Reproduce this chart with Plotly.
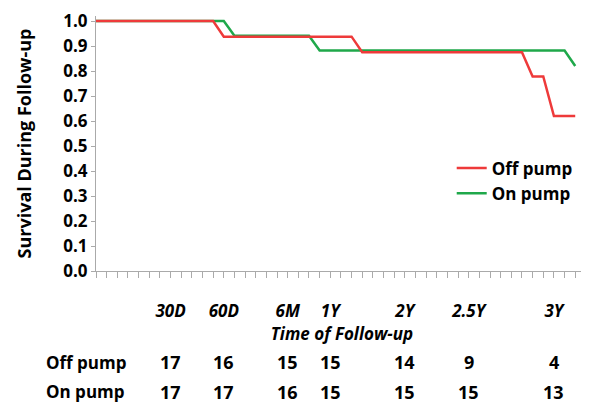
import plotly.graph_objects as go

# x positions are in chart grid units (one minor tick per unit)
off_x = [0, 11, 12, 24, 25, 40, 41, 42, 43, 45]
off_y = [1.0, 1.0, 0.9375, 0.9375, 0.875, 0.875, 0.778, 0.778, 0.62, 0.62]
on_x = [0, 12, 13, 20, 21, 44, 45]
on_y = [1.0, 1.0, 0.941, 0.941, 0.882, 0.882, 0.82]

tick_pos = [7, 12, 18, 22, 29, 35, 43]
tick_text = ["30D", "60D", "6M", "1Y", "2Y", "2.5Y", "3Y"]
event_ticks = [6, 10, 11, 13, 15, 20, 24, 25, 30, 36, 40, 42, 44, 45]

risk_off = [17, 16, 15, 15, 14, 9, 4]
risk_on = [17, 17, 16, 15, 15, 15, 13]

RED = "#EE3A3A"
GREEN = "#1FA84A"
FONT = "Open Sans"

fig = go.Figure()
fig.add_trace(go.Scatter(x=on_x, y=on_y, mode="lines", name="On pump",
                         line=dict(color=GREEN, width=2.5), cliponaxis=False))
fig.add_trace(go.Scatter(x=off_x, y=off_y, mode="lines", name="Off pump",
                         line=dict(color=RED, width=2.5), cliponaxis=False))
# dark event ticks and square markers along the time axis
fig.add_trace(go.Scatter(x=event_ticks, y=[0] * len(event_ticks), mode="markers",
                         yaxis="y2", showlegend=False, cliponaxis=False, hoverinfo="skip",
                         marker=dict(symbol="line-ns", size=7, line=dict(color="#555555", width=2))))
fig.add_trace(go.Scatter(x=tick_pos, y=[0] * len(tick_pos), mode="markers",
                         yaxis="y2", showlegend=False, cliponaxis=False, hoverinfo="skip",
                         marker=dict(symbol="square", size=6, color="black")))

bold = dict(family=FONT, color="black", weight="bold")

ROW1_Y = -0.358
ROW2_Y = -0.474

ann = []
for xv, n in zip(tick_pos, risk_off):
    ann.append(dict(x=xv, y=ROW1_Y, xref="x", yref="paper", text=str(n), showarrow=False,
                    yanchor="middle", font=dict(bold, size=18)))
for xv, n in zip(tick_pos, risk_on):
    ann.append(dict(x=xv, y=ROW2_Y, xref="x", yref="paper", text=str(n), showarrow=False,
                    yanchor="middle", font=dict(bold, size=18)))
ann.append(dict(x=-0.106, y=ROW1_Y, xref="paper", yref="paper", text="Off pump", showarrow=False,
                xanchor="left", yanchor="middle", font=dict(bold, size=17)))
ann.append(dict(x=-0.106, y=ROW2_Y, xref="paper", yref="paper", text="On pump", showarrow=False,
                xanchor="left", yanchor="middle", font=dict(bold, size=17)))

fig.update_layout(
    width=589, height=405,
    margin=dict(l=88, r=9, t=7.7, b=142.3),
    plot_bgcolor="white", paper_bgcolor="white",
    showlegend=True,
    legend=dict(x=0.723, y=0.4725, xanchor="left", yanchor="top", traceorder="reversed",
                font=dict(bold, size=17),
                bgcolor="rgba(0,0,0,0)", tracegroupgap=0, itemwidth=30),
    xaxis=dict(range=[0, 46.2], showgrid=False, zeroline=False, automargin=False,
               showline=True, linecolor="#AAAAAA", linewidth=1,
               tickmode="array", tickvals=tick_pos, ticktext=tick_text,
               ticks="outside", ticklen=25, tickcolor="rgba(0,0,0,0)",
               tickfont=dict(bold, size=17, style="italic"),
               minor=dict(dtick=1, tick0=0, ticks="outside", ticklen=6, tickcolor="#AAAAAA", tickwidth=1),
               title=dict(text="Time of Follow-up", standoff=5,
                          font=dict(bold, size=17, style="italic"))),
    yaxis=dict(range=[0, 1.02], showgrid=False, zeroline=False, automargin=False,
               showline=True, linecolor="#AAAAAA", linewidth=1,
               tickmode="array", tickvals=[i / 10 for i in range(11)],
               ticktext=[f"{i / 10:.1f}" for i in range(11)],
               ticks="outside", ticklen=4, tickcolor="#AAAAAA",
               tickfont=dict(bold, size=17),
               title=dict(text="Survival During Follow-up", standoff=27,
                          font=dict(bold, size=18))),
    yaxis2=dict(overlaying="y", range=[0.0157, 1.0357], visible=False),
    annotations=ann,
)

fig.write_html("out.html")
